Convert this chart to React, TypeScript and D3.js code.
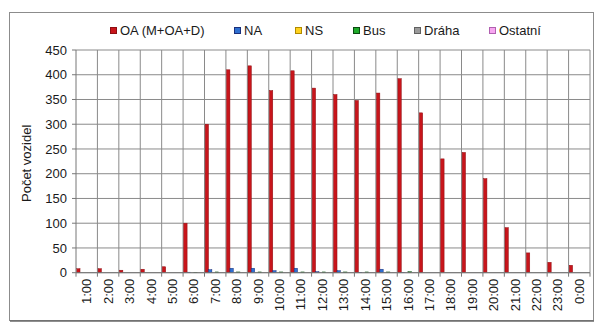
import React from "react";
import * as d3 from "d3";

const hours = ["1:00","2:00","3:00","4:00","5:00","6:00","7:00","8:00","9:00","10:00","11:00","12:00","13:00","14:00","15:00","16:00","17:00","18:00","19:00","20:00","21:00","22:00","23:00","0:00"];
const seriesNames = ["OA (M+OA+D)", "NA", "NS", "Bus", "Dráha", "Ostatní"];
const oa = [8, 8, 5, 7, 12, 100, 300, 410, 418, 368, 408, 373, 360, 348, 363, 392, 323, 230, 243, 190, 91, 40, 21, 15];
const na = [0, 0, 0, 0, 0, 1, 6, 9, 9, 4, 9, 2, 4, 0.5, 7, 0.5, 0, 0, 0, 0, 0, 0, 0, 0];
const ns = [0, 0, 0, 0, 0, 0, 0, 0, 0, 0, 0, 0, 0, 0, 0, 0, 0, 0, 0, 0, 0, 0, 0, 0];
const bus = [0, 0, 0, 0, 0, 0.5, 1.5, 1.5, 1.5, 1.5, 1.5, 1.5, 1.5, 1.5, 1.5, 2, 0, 0, 0, 0, 0, 0, 0, 0];
const draha = [0, 0, 0, 0, 0, 0, 0, 0, 0, 0, 0, 0, 0, 0, 0, 0, 0, 0, 0, 0, 0, 0, 0, 0];
const ostatni = [0, 0, 0, 0, 0, 0, 0, 0, 0, 0, 0, 0, 0, 0, 0, 0, 0, 0, 0, 0, 0, 0, 0, 0];
const yTicks = [0, 50, 100, 150, 200, 250, 300, 350, 400, 450];
const yTitle = "Počet vozidel";

const seriesValues = [oa, na, ns, bus, draha, ostatni];
const fills = ["#C8151B", "#2E6FD0", "#FFD21F", "#1FAA2A", "#9A9A9A", "#F7A6F0"];
const strokes = ["#8E0E12", "#1A2F7A", "#B08A00", "#0A4A10", "#606060", "#B060B0"];
const legendX = [110, 234, 295, 353, 414, 489];

const FONT = "'Liberation Sans', Arial, sans-serif";

export default function App() {
  const W = 595, H = 334;
  const left = 76, right = 590, top = 50, bottom = 272.7;
  const x = d3.scaleBand<string>().domain(hours).range([left, right]).paddingInner(0).paddingOuter(0);
  const inner = d3.scaleBand<string>().domain(seriesNames).range([0, x.bandwidth()]).paddingInner(0).paddingOuter(0.2);
  const y = d3.scaleLinear().domain([0, 450]).range([bottom, top]);
  const grid = "#8a8a8a";

  return (
    <svg width={W} height={H} style={{ position: "absolute", left: 0, top: 0, background: "#fff" }} fontFamily={FONT}>
      <rect x={0} y={0} width={W} height={H} fill="#fff" />
      {/* outer frame */}
      <rect x={9.5} y={12.5} width={584} height={308} fill="#fff" stroke="#8c8c8c" strokeWidth={1} />
      <line x1={10} x2={594} y1={321} y2={321} stroke="#6a6a6a" strokeWidth={1.5} />

      {/* horizontal gridlines */}
      {yTicks.map((t) => (
        <line key={"h" + t} x1={left} x2={right} y1={y(t)} y2={y(t)} stroke={grid} strokeWidth={1} />
      ))}
      {/* vertical gridlines */}
      {hours.map((h) => (
        <line key={"v" + h} x1={(x(h) as number) + x.bandwidth()} x2={(x(h) as number) + x.bandwidth()} y1={top} y2={bottom} stroke={grid} strokeWidth={1} />
      ))}

      {/* bars */}
      {seriesValues.map((vals, si) =>
        vals.map((v, i) => {
          if (v <= 0) return null;
          const bx = (x(hours[i]) as number) + (inner(seriesNames[si]) as number);
          const by = y(v);
          return (
            <rect key={si + "-" + i} x={bx} y={by} width={inner.bandwidth()} height={bottom - by}
              fill={fills[si]} stroke={strokes[si]} strokeWidth={0.5} />
          );
        })
      )}

      {/* axes */}
      <line x1={left} x2={left} y1={top} y2={bottom} stroke="#777" strokeWidth={1} />
      <line x1={left} x2={right} y1={bottom} y2={bottom} stroke="#777" strokeWidth={1} />
      {yTicks.map((t) => (
        <g key={"yt" + t}>
          <line x1={left - 4} x2={left} y1={y(t)} y2={y(t)} stroke="#777" />
          <text x={67} y={y(t)} dy="0.35em" textAnchor="end" fontSize={13} fill="#1a1a1a">{t}</text>
        </g>
      ))}
      {[left, ...hours.map((h) => (x(h) as number) + x.bandwidth())].map((xx, i) => (
        <line key={"xt" + i} x1={xx} x2={xx} y1={bottom} y2={bottom + 4} stroke="#777" />
      ))}
      {hours.map((h) => {
        const cx = (x(h) as number) + x.bandwidth() / 2;
        return (
          <text key={"xl" + h} transform={`translate(${cx},${bottom + 6}) rotate(-90)`} textAnchor="end" dy="0.35em" fontSize={13} fill="#1a1a1a">{h}</text>
        );
      })}

      {/* y title */}
      <text transform={`translate(31,${(top + bottom) / 2 + 2}) rotate(-90)`} textAnchor="middle" fontSize={13} fill="#1a1a1a">{yTitle}</text>

      {/* legend */}
      {seriesNames.map((s, i) => (
        <g key={"lg" + s}>
          <rect x={legendX[i] + 0.5} y={27.5} width={6} height={6} fill={fills[i]} stroke={strokes[i]} strokeWidth={1} />
          <text x={legendX[i] + 10} y={35} fontSize={13} fill="#1a1a1a">{s}</text>
        </g>
      ))}
    </svg>
  );
}
